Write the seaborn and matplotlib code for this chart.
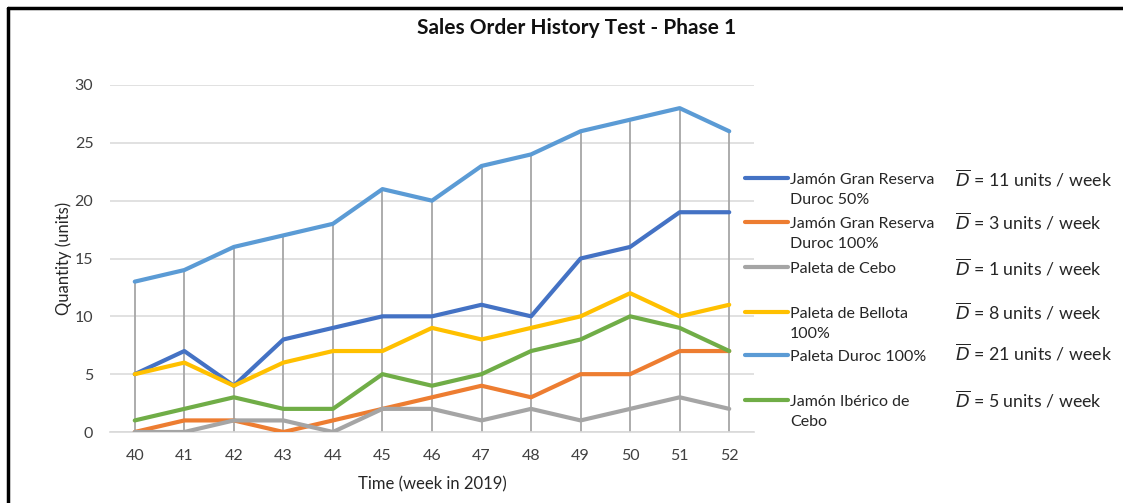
import pandas as pd
import matplotlib.pyplot as plt
import seaborn as sns
from matplotlib.lines import Line2D

# DATOS
semanas = [40, 41, 42, 43, 44, 45, 46, 47, 48, 49, 50, 51, 52]

productos = [
    "Jamón Gran Reserva\nDuroc 50%",
    "Jamón Gran Reserva\nDuroc 100%",
    "Paleta de Cebo",
    "Paleta de Bellota\n100%",
    "Paleta Duroc 100%",
    "Jamón Ibérico de\nCebo",
]

duroc_50 = [5, 7, 4, 8, 9, 10, 10, 11, 10, 15, 16, 19, 19]
duroc_100 = [0, 1, 1, 0, 1, 2, 3, 4, 3, 5, 5, 7, 7]
paleta_cebo = [0, 0, 1, 1, 0, 2, 2, 1, 2, 1, 2, 3, 2]
paleta_bellota = [5, 6, 4, 6, 7, 7, 9, 8, 9, 10, 12, 10, 11]
paleta_duroc = [13, 14, 16, 17, 18, 21, 20, 23, 24, 26, 27, 28, 26]
iberico_cebo = [1, 2, 3, 2, 2, 5, 4, 5, 7, 8, 10, 9, 7]

demanda_media = [11, 3, 1, 8, 21, 5]

colores = ["#4472C4", "#ED7D31", "#A5A5A5", "#FFC000", "#5B9BD5", "#70AD47"]

series = [duroc_50, duroc_100, paleta_cebo, paleta_bellota, paleta_duroc, iberico_cebo]
df = pd.DataFrame({
    "semana": semanas * len(productos),
    "cantidad": sum(series, []),
    "producto": [p for p in productos for _ in semanas],
})

# ESTILO
sns.set_style("white")
plt.rcParams["font.family"] = ["Lato", "DejaVu Sans"]

fig = plt.figure(figsize=(11.23, 5.03), dpi=100)
W, H = 1123, 503
ax = fig.add_axes([110 / W, 1 - 432 / H, (754 - 110) / W, (432 - 85) / H])

# líneas de caída (drop lines) hasta el máximo de cada semana
maximos = df.groupby("semana")["cantidad"].max()
ax.vlines(maximos.index, 0, maximos.values, color="#A6A6A6", linewidth=1.3, zorder=1)

sns.lineplot(
    data=df, x="semana", y="cantidad", hue="producto",
    palette=dict(zip(productos, colores)), linewidth=3.0,
    legend=False, ax=ax, zorder=3,
)

ax.set_xlim(39.5, 52.5)
ax.set_ylim(0, 30)
ax.set_yticks(range(0, 31, 5))
ax.set_xticks(semanas)
ax.grid(axis="y", color="#D9D9D9", linewidth=1.1)
ax.set_axisbelow(True)
for s in ["top", "right", "left"]:
    ax.spines[s].set_visible(False)
ax.spines["bottom"].set_color("#D9D9D9")
ax.spines["bottom"].set_linewidth(1.2)
ax.tick_params(axis="both", length=0, labelsize=11.5, colors="#404040", pad=12)

ax.set_xlabel("Time (week in 2019)", fontsize=12, color="#262626", labelpad=10)
ax.set_ylabel("Quantity (units)", fontsize=12, color="#262626", labelpad=2)

fig.text(577 / W, 1 - 28 / H, "Sales Order History Test - Phase 1",
         ha="center", va="center", fontsize=15, fontweight="bold", color="#111111")

# LEYENDA MANUAL
ys = [178, 222, 267, 312, 355, 400]
ys_d = [178, 221, 267, 311, 352, 399]
for prod, col, y, yd, d in zip(productos, colores, ys, ys_d, demanda_media):
    fig.add_artist(Line2D([745 / W, 788 / W], [1 - y / H, 1 - y / H],
                          color=col, linewidth=3.0, transform=fig.transFigure))
    for i, linea in enumerate(prod.split("\n")):
        fig.text(790 / W, 1 - (y + 2 + 20 * i) / H, linea, ha="left", va="center",
                 fontsize=11.5, color="#262626")
    fig.text(955 / W, 1 - (yd + 1) / H, r"$\overline{D}$" + f" = {d} units / week",
             ha="left", va="center", fontsize=12.8, color="#262626")

# MARCO
fig.add_artist(Line2D([8 / W, 8 / W], [0, 1 - 8 / H], color="black", linewidth=2.5,
                      transform=fig.transFigure))
fig.add_artist(Line2D([8 / W, 1], [1 - 8 / H, 1 - 8 / H], color="black", linewidth=2.5,
                      transform=fig.transFigure))

plt.savefig("out.png", dpi=100)
